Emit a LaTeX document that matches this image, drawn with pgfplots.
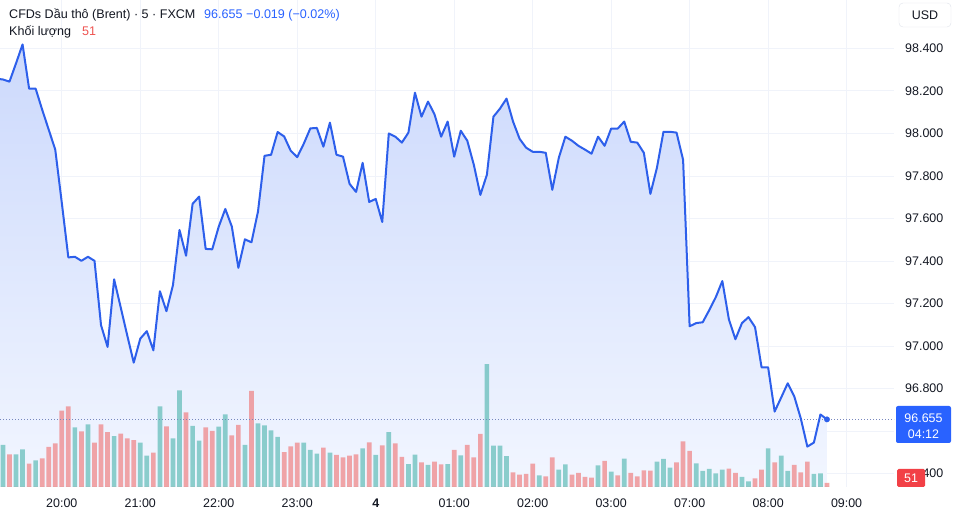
\documentclass[border=0pt]{standalone}
\usepackage{fontspec}
\setmainfont{Liberation Sans}
\usepackage{pgfplots}
\usepackage{pgfplotstable}
\pgfplotsset{compat=1.18}

\definecolor{txt}{RGB}{19,23,34}
\definecolor{linecol}{RGB}{45,95,235}
\definecolor{areatop}{RGB}{204,217,252}
\definecolor{areabot}{RGB}{242,246,255}
\definecolor{upcol}{RGB}{38,166,154}
\definecolor{downcol}{RGB}{239,83,80}
\definecolor{gridcol}{RGB}{240,243,250}
\definecolor{tagblue}{RGB}{41,98,255}
\definecolor{tagred}{RGB}{242,64,70}
\definecolor{pricedot}{RGB}{120,135,190}
\definecolor{bordercol}{RGB}{224,227,235}

\newcommand\tvfont{\fontsize{12.5}{15}\selectfont}
\newcommand\hdfont{\fontsize{12.6}{15}\selectfont}

% 5-minute bars: index (0 = 20:00), close, volume, 1 = up bar / 0 = down bar
\pgfplotstableread{
i close vol dir
-10 98.258 0 1
-9 98.254 536 1
-8 98.244 417 0
-7 98.330 417 1
-6 98.419 481 1
-5 98.211 297 0
-4 98.211 340 1
-3 98.112 366 0
-2 98.018 510 0
-1 97.924 557 0
0 97.674 973 0
1 97.417 1029 0
2 97.420 761 1
3 97.401 710 0
4 97.420 799 1
5 97.401 565 0
6 97.098 799 0
7 96.996 701 0
8 97.314 650 1
9 97.183 680 0
10 97.051 621 0
11 96.922 599 0
12 97.035 565 1
13 97.070 399 1
14 96.980 437 0
15 97.258 1029 1
16 97.164 774 0
17 97.287 621 1
18 97.546 1233 1
19 97.425 952 0
20 97.669 778 1
21 97.703 590 1
22 97.457 761 0
23 97.455 714 0
24 97.562 769 1
25 97.645 927 1
26 97.562 659 0
27 97.368 791 0
28 97.502 536 1
29 97.488 1224 0
30 97.633 812 1
31 97.895 787 1
32 97.900 723 1
33 98.007 638 1
34 97.986 446 0
35 97.919 519 0
36 97.889 565 0
37 97.952 565 1
38 98.024 472 1
39 98.026 425 1
40 97.938 501 0
41 98.051 437 1
42 97.900 408 0
43 97.891 379 0
44 97.763 399 0
45 97.725 417 0
46 97.862 493 1
47 97.678 570 0
48 97.692 408 1
49 97.584 532 0
50 98.000 701 1
51 97.985 557 0
52 97.957 383 0
53 98.004 293 1
54 98.192 412 1
55 98.079 315 0
56 98.150 281 1
57 98.089 325 0
58 97.985 289 0
59 98.056 293 1
60 97.891 472 0
61 98.013 404 1
62 97.966 536 0
63 97.853 379 0
64 97.711 676 0
65 97.806 1568 1
66 98.079 527 1
67 98.117 527 1
68 98.164 395 1
69 98.056 187 0
70 97.975 157 0
71 97.933 166 0
72 97.914 297 0
73 97.914 149 1
74 97.909 136 0
75 97.735 379 0
76 97.886 221 1
77 97.985 289 1
78 97.966 157 0
79 97.942 179 0
80 97.924 128 0
81 97.905 119 0
82 97.985 277 1
83 97.942 332 0
84 98.023 195 1
85 98.023 149 0
86 98.056 361 1
87 97.961 179 0
88 97.957 136 0
89 97.909 213 0
90 97.716 208 0
91 97.839 323 1
92 98.008 357 1
93 98.008 246 1
94 98.004 315 0
95 97.876 583 0
96 97.093 459 0
97 97.108 302 1
98 97.112 204 1
99 97.169 230 1
100 97.230 175 1
101 97.306 221 1
102 97.126 233 0
103 97.032 179 0
104 97.108 128 1
105 97.136 73 1
106 97.089 111 0
107 96.900 221 0
108 96.900 493 1
109 96.692 315 0
110 96.758 399 1
111 96.825 204 1
112 96.763 281 0
113 96.659 187 0
114 96.527 323 0
115 96.546 166 1
116 96.678 175 1
117 96.655 51 0
}\bars

\pgfplotsset{
  chartaxis/.style={
    at={(0bp,45bp)}, anchor=south west, scale only axis,
    width=894bp, height=487bp,
    xmin=-9.45, xmax=127.25,
  },
  priceaxis/.style={chartaxis, ymin=96.337, ymax=98.628},
}

\begin{document}
\begin{tikzpicture}
\fill[white] (0,0) rectangle (955bp,532bp);

% grid, scales and the shaded area under the close line
% (the 96.600 level sits under the last-price tag, and the 96.400 label
%  is partly covered by the volume tag, so only "400" shows)
\begin{axis}[priceaxis,
  axis line style={draw=none}, major tick length=0pt,
  xtick={0,12,24,36,48,60,72,84,96,108,120},
  xticklabels={20:00,21:00,22:00,23:00,\textbf{4},01:00,02:00,03:00,07:00,08:00,09:00},
  ytick={96.4,96.6,96.8,97,97.2,97.4,97.6,97.8,98,98.2,98.4},
  yticklabels={\phantom{96.}400,{},96.800,97.000,97.200,97.400,97.600,97.800,98.000,98.200,98.400},
  yticklabel pos=right,
  grid=major, major grid style={gridcol, line width=1bp},
  xticklabel style={anchor=center, yshift=-16bp, font=\tvfont, text=txt},
  yticklabel style={anchor=west, inner sep=0pt, xshift=11bp, font=\tvfont, text=txt},
]
\addplot[draw=none, top color=areatop, bottom color=areabot]
  table[x=i, y=close]{\bars} -- (axis cs:117,96.337) -- (axis cs:-10,96.337) -- cycle;
\end{axis}

% volume bars
\begin{axis}[chartaxis, ymin=0, ymax=6209, hide axis]
\addplot[ybar, bar width=4.7bp, bar shift=0pt, draw=none, fill=upcol, fill opacity=0.5]
  table[x=i, y expr={\thisrow{dir}>0 ? \thisrow{vol} : 0}]{\bars};
\addplot[ybar, bar width=4.7bp, bar shift=0pt, draw=none, fill=downcol, fill opacity=0.5]
  table[x=i, y expr={\thisrow{dir}>0 ? 0 : \thisrow{vol}}]{\bars};
\end{axis}

% close line, last price level and last point
\begin{axis}[priceaxis, hide axis]
\addplot[pricedot, line width=0.8bp, dash pattern=on 1bp off 2bp]
  coordinates {(-9.45,96.655) (127.25,96.655)};
\addplot[linecol, line width=2bp, line join=round] table[x=i, y=close]{\bars};
\addplot[only marks, mark=*, mark size=2.7bp, color=linecol] coordinates {(117,96.655)};
\end{axis}

% legend lines
\node[anchor=base west, inner sep=0pt, text=txt, font=\hdfont] at (9bp,513bp)
  {CFDs Dầu thô (Brent) · 5 · FXCM};
\node[anchor=base west, inner sep=0pt, text=tagblue, font=\hdfont] at (204bp,513bp) {96.655};
\node[anchor=base west, inner sep=0pt, text=tagblue, font=\hdfont] at (246bp,513bp) {−0.019 (−0.02\%)};
\node[anchor=base west, inner sep=0pt, text=txt, font=\hdfont] at (9bp,496bp) {Khối lượng};
\node[anchor=base west, inner sep=0pt, text=downcol, font=\hdfont] at (82bp,496bp) {51};

% currency button
\draw[bordercol, fill=white, rounded corners=4bp] (899bp,505bp) rectangle (951bp,529bp);
\node[text=txt, font=\tvfont] at (925bp,517bp) {USD};

% last price tag and last volume tag
\fill[tagblue, rounded corners=2bp] (896bp,89bp) rectangle (951bp,126bp);
\node[text=white, font=\tvfont, inner sep=0pt] at (923.5bp,114bp) {96.655};
\node[text=white, font=\tvfont, inner sep=0pt] at (923.5bp,98bp) {04:12};
\fill[tagred, rounded corners=1.5bp] (897bp,45bp) rectangle (925bp,63bp);
\node[text=white, font=\tvfont, inner sep=0pt] at (911bp,54bp) {51};

\pgfresetboundingbox
\path[use as bounding box] (0,0) rectangle (955bp,532bp);
\end{tikzpicture}
\end{document}
